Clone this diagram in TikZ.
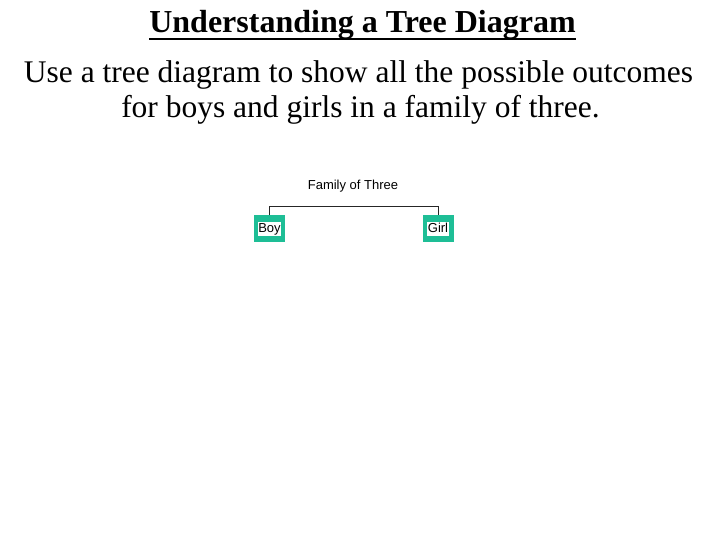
\documentclass[tikz,border=0pt]{standalone}
\usepackage{fontspec}
\setmainfont{Liberation Serif}
\newfontfamily\arialf{Liberation Sans}
\definecolor{boxgreen}{RGB}{30,190,150}
\begin{document}
\begin{tikzpicture}[x=1pt,y=-1pt,
  leaf/.style={fill=boxgreen,minimum width=31pt,minimum height=26pt,inner sep=0pt},
  leaftext/.style={fill=white,inner sep=0.5pt,text height=10pt,text depth=2.5pt,font=\arialf\fontsize{13}{13}\selectfont},
  body/.style={anchor=base,inner sep=0pt,font=\fontsize{31.5}{35}\selectfont},
  conn/.style={line width=0.8pt,draw=black!85}]
\useasboundingbox (0,0) rectangle (720,540);
\node[anchor=base,font=\bfseries\fontsize{32}{34}\selectfont,inner sep=0pt] (title) at (362.5,33) {Understanding a Tree Diagram};
\draw[line width=2pt] ([yshift=-6.5pt]title.base west) -- ([yshift=-6.5pt]title.base east);
\node[body] (sub1) at (358.5,83) {Use a tree diagram to show all the possible outcomes};
\node[body] (sub2) at (360.5,118) {for boys and girls in a family of three.};
\node[anchor=base,inner sep=0pt,font=\arialf\fontsize{13}{13}\selectfont] (root) at (353,190) {Family of Three};
\node[leaf] (boy) at (269.5,228.5) {};
\node[leaftext] (boyt) at (269.5,229) {Boy};
\node[leaf] (girl) at (438,228.5) {};
\node[leaftext] (girlt) at (438,229) {Girl};
\coordinate (jb) at (269.5,206);
\coordinate (jg) at (438,206);
\draw[conn] (boy.north) -- (jb) -- (jg) -- (girl.north);
\end{tikzpicture}
\end{document}
